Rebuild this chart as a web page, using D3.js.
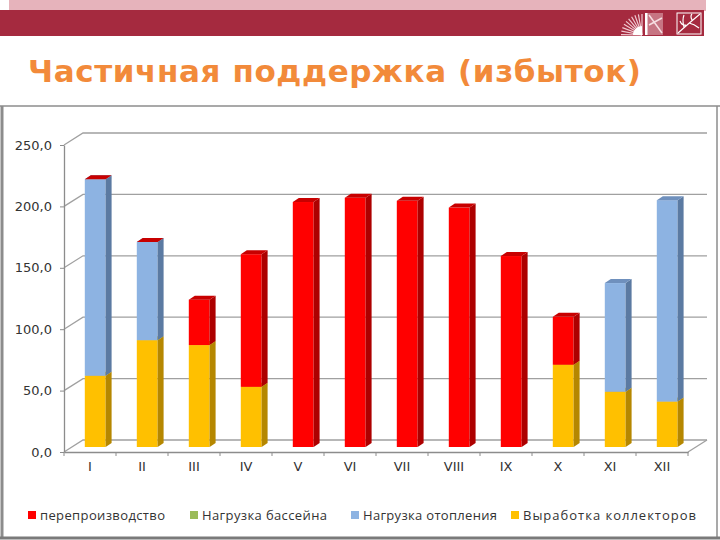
<!DOCTYPE html>
<html>
<head>
<meta charset="utf-8">
<script src="https://cdn.jsdelivr.net/npm/d3@7"></script>
<style>
  body { margin: 0; background: #fff; }
  svg { display: block; }
</style>
</head>
<body>
<div id="chart"></div>
<script>
// chart data
const categories = ["I", "II", "III", "IV", "V", "VI", "VII", "VIII", "IX", "X", "XI", "XII"];
const yTicks = [0, 50, 100, 150, 200, 250];
// stacked bottom -> top, null = empty cell
const vyrabotka = [58, 87, 83, 49, null, null, null, null, null, 67, 45, 37];
const bassein   = [null, null, null, null, null, null, null, null, null, null, null, null];
const otoplenie = [160, 80, null, null, null, null, null, null, null, null, 88.5, 164];
const pereproiz = [0, 0, 37, 108, 199.5, 203, 200.5, 195, 155.5, 39, null, null];
const legendNames = ["перепроизводство", "Нагрузка бассейна", "Нагрузка отопления", "Выработка коллекторов"];

const W = 720, H = 540;
const svg = d3.select("#chart").append("svg")
  .attr("width", W).attr("height", H);

// --- slide header ---
svg.append("rect").attr("x", 9).attr("y", 0).attr("width", 697).attr("height", 11).attr("fill", "#e6b3bb");
svg.append("rect").attr("x", 0).attr("y", 10).attr("width", 704).attr("height", 26).attr("fill", "#a52a3f");

// logo (rough)
const logo = svg.append("g").attr("transform", "translate(622,12)");
d3.range(10).forEach(i => {
  const a = Math.PI * (0.5 + i * 0.055);
  logo.append("line")
    .attr("x1", 20).attr("y1", 23)
    .attr("x2", 20 + Math.cos(a) * 21).attr("y2", 23 - Math.sin(a) * 21)
    .attr("stroke", "#efc9d0").attr("stroke-width", 1.2);
});
logo.append("path").attr("d", "M11,23 A9,9 0 0 1 20,14 L20,23 Z").attr("fill", "#fff");
logo.append("rect").attr("x", 23).attr("y", 1).attr("width", 18).attr("height", 22).attr("fill", "#c77583");
logo.append("rect").attr("x", 23).attr("y", 1).attr("width", 2.5).attr("height", 22).attr("fill", "#fff");
logo.append("path").attr("d", "M27,3 L40,21 M27,13 L40,6").attr("stroke", "#f6dde1").attr("stroke-width", 1.5);
logo.append("rect").attr("x", 55).attr("y", 1).attr("width", 24).attr("height", 21)
  .attr("fill", "none").attr("stroke", "#fff").attr("stroke-width", 1);
logo.append("path").attr("d", "M56,21 Q66,12 78,2 M62,15 Q60,8 62,3 M67,11 Q72,12 77,16 M70,8 Q68,4 70,2 M58,9 Q60,14 64,13")
  .attr("fill", "none").attr("stroke", "#fff").attr("stroke-width", 1.2);

svg.append("text")
  .attr("x", 28).attr("y", 82)
  .attr("textLength", 613)
  .style("font-family", "'DejaVu Sans', sans-serif")
  .style("font-weight", "bold")
  .style("font-size", "31px")
  .attr("fill", "#f28a3a")
  .text("Частичная поддержка (избыток)");

// chart frame
svg.append("line").attr("x1", 0).attr("x2", W).attr("y1", 106).attr("y2", 106).attr("stroke", "#8c8c8c").attr("stroke-width", 1.5);
svg.append("line").attr("x1", 2).attr("x2", 2).attr("y1", 106).attr("y2", 538).attr("stroke", "#8c8c8c").attr("stroke-width", 3);
svg.append("line").attr("x1", 717).attr("x2", 717).attr("y1", 106).attr("y2", 538).attr("stroke", "#8c8c8c").attr("stroke-width", 1.5);
svg.append("line").attr("x1", 0).attr("x2", W).attr("y1", 538).attr("y2", 538).attr("stroke", "#7a7a7a").attr("stroke-width", 3);

// --- 3D column chart ---
const depth = {dx: 19, dy: -12};     // back wall offset
const barOff = -5;                    // bar plane vs front plane
const side = {dx: 6, dy: -4};         // bar depth

const x = d3.scaleBand().domain(categories).range([64, 688]);
const y = d3.scaleLinear().domain([0, 250]).range([452, 145]);

const grid = svg.append("g").attr("fill", "none").attr("stroke", "#a0a0a0").attr("stroke-width", 1.3);
yTicks.forEach(v => {
  grid.append("path").attr("d", `M${x.range()[0]},${y(v)} l${depth.dx},${depth.dy} H${x.range()[1] + depth.dx}`);
});
grid.append("path").attr("d", `M${x.range()[1]},${y(0)} l${depth.dx},${depth.dy}`);

const fmt = d => d3.format(".1f")(d).replace(".", ",");
const yAxis = svg.append("g")
  .attr("transform", `translate(${x.range()[0]},0)`)
  .call(d3.axisLeft(y).tickValues(yTicks).tickFormat(fmt).tickSize(4).tickSizeOuter(0));
yAxis.select(".domain").attr("stroke", "#8c8c8c").attr("stroke-width", 1.3);
yAxis.selectAll(".tick line").attr("stroke", "#8c8c8c");
yAxis.selectAll("text")
  .attr("x", -12)
  .style("font-family", "'DejaVu Sans', sans-serif").style("font-size", "13px").attr("fill", "#333");

const xAxis = svg.append("g")
  .attr("transform", `translate(0,${y(0)})`)
  .call(d3.axisBottom(x).tickSize(0).tickPadding(10));
xAxis.select(".domain").attr("stroke", "#8c8c8c").attr("stroke-width", 1.3);
xAxis.selectAll("text")
  .style("font-family", "'DejaVu Sans', sans-serif").style("font-size", "13px").attr("fill", "#333");
xAxis.selectAll(".bnd").data(d3.range(categories.length + 1)).enter().append("line")
  .attr("x1", i => x.range()[0] + i * x.step()).attr("x2", i => x.range()[0] + i * x.step())
  .attr("y1", 0).attr("y2", 4).attr("stroke", "#8c8c8c");

const series = [
  {name: "Выработка коллекторов", values: vyrabotka, front: "#ffc000", side: "#b58700", top: "#d9a400"},
  {name: "Нагрузка бассейна", values: bassein, front: "#9bbb59", side: "#6f8a3c", top: "#82a04a"},
  {name: "Нагрузка отопления", values: otoplenie, front: "#8db3e2", side: "#5b7aa2", top: "#6f90bd"},
  {name: "перепроизводство", values: pereproiz, front: "#ff0000", side: "#ad0000", top: "#c80000"}
];

const bw = x.bandwidth() * 0.4;
const bars = svg.append("g");
categories.forEach((c, i) => {
  const bx = x(c) + x.bandwidth() * 0.4;
  let acc = 0;
  series.forEach(s => {
    const v = s.values[i];
    if (v === null) return;
    const y0 = y(acc) + barOff, y1 = y(acc + v) + barOff;
    acc += v;
    bars.append("rect").attr("x", bx).attr("y", y1).attr("width", bw).attr("height", y0 - y1).attr("fill", s.front);
    bars.append("path")
      .attr("d", `M${bx + bw},${y0} L${bx + bw},${y1} l${side.dx},${side.dy} L${bx + bw + side.dx},${y0 + side.dy} Z`)
      .attr("fill", s.side);
    bars.append("path")
      .attr("d", `M${bx},${y1} L${bx + bw},${y1} l${side.dx},${side.dy} L${bx + side.dx},${y1 + side.dy} Z`)
      .attr("fill", s.top);
  });
});

// legend
const legendColors = ["#ff0000", "#9bbb59", "#8db3e2", "#ffc000"];
const legendX = [28, 190, 351, 511];
const legendW = [125, 125, 134, 173];
const legend = svg.append("g");
legendNames.forEach((n, i) => {
  legend.append("rect").attr("x", legendX[i]).attr("y", 511).attr("width", 8).attr("height", 8).attr("fill", legendColors[i]);
  legend.append("text")
    .attr("x", legendX[i] + 12).attr("y", 520)
    .attr("textLength", legendW[i])
    .style("font-family", "'Open Sans', sans-serif").style("font-size", "13px").attr("fill", "#333")
    .text(n);
});
</script>
</body>
</html>
